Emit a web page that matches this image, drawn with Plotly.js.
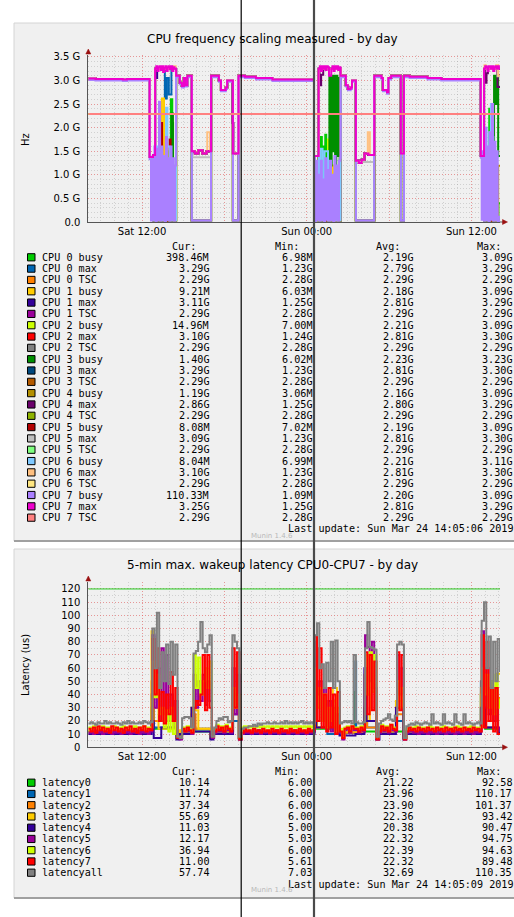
<!DOCTYPE html>
<html>
<head>
<meta charset="utf-8">
<script src="https://cdn.plot.ly/plotly-3.0.1.min.js"></script>
<style>
html,body{margin:0;padding:0;background:#ffffff;overflow:hidden;}
#chart{width:514px;height:917px;}
</style>
</head>
<body>
<div id="chart"></div>
<script>
// ---------- time axis: hours since Sat 2019-03-23 00:00 ----------
const T_START = 8.083;   // Sat 08:05
const T_END = 38.083;    // Sun 14:05
const STEP5 = 5 / 60;
const STEP10 = 10 / 60;
const xTickVals = [12, 18, 24, 30, 36];
const xTickText = ['Sat 12:00', '', 'Sun 00:00', '', 'Sun 12:00'];

// ---------- chart 1: CPU frequency ----------
const freqTickVals = [0, 0.5, 1, 1.5, 2, 2.5, 3, 3.5];
const freqTickText = ['0.0', '0.5 G', '1.0 G', '1.5 G', '2.0 G', '2.5 G', '3.0 G', '3.5 G'];

const cpuLabels = ['CPU 0 busy','CPU 0 max','CPU 0 TSC','CPU 1 busy','CPU 1 max','CPU 1 TSC',
  'CPU 2 busy','CPU 2 max','CPU 2 TSC','CPU 3 busy','CPU 3 max','CPU 3 TSC',
  'CPU 4 busy','CPU 4 max','CPU 4 TSC','CPU 5 busy','CPU 5 max','CPU 5 TSC',
  'CPU 6 busy','CPU 6 max','CPU 6 TSC','CPU 7 busy','CPU 7 max','CPU 7 TSC'];
const cpuColors = ['#00CC00','#0066B3','#FF8000','#FFCC00','#330099','#990099','#CCFF00','#FF0000',
  '#808080','#008F00','#00487D','#B35A00','#B38F00','#6B006B','#8FB300','#B30000','#BEBEBE',
  '#80FF80','#80C9FF','#FFC080','#FFE680','#AA80FF','#EE00CC','#FF8080'];
const cpuCur = ['398.46M','3.29G','2.29G','9.21M','3.11G','2.29G','14.96M','3.10G','2.29G','1.40G','3.29G','2.29G',
  '1.19G','2.86G','2.29G','8.08M','3.09G','2.29G','8.04M','3.10G','2.29G','110.33M','3.25G','2.29G'];
const cpuMin = ['6.98M','1.23G','2.28G','6.03M','1.25G','2.28G','7.00M','1.24G','2.28G','6.02M','1.23G','2.28G',
  '3.06M','1.25G','2.28G','7.02M','1.23G','2.28G','6.99M','1.23G','2.28G','1.09M','1.25G','2.28G'];
const cpuAvg = ['2.19G','2.79G','2.29G','2.18G','2.81G','2.29G','2.21G','2.81G','2.29G','2.23G','2.81G','2.29G',
  '2.16G','2.80G','2.29G','2.19G','2.81G','2.29G','2.21G','2.81G','2.29G','2.20G','2.81G','2.29G'];
const cpuMax = ['3.09G','3.29G','2.29G','3.09G','3.29G','2.29G','3.09G','3.30G','2.29G','3.23G','3.30G','2.29G',
  '3.09G','3.29G','2.29G','3.09G','3.30G','2.29G','3.11G','3.30G','2.29G','3.09G','3.29G','2.29G'];

// step breakpoints (hours) and levels (GHz); null = no change point
const phaseTimes = [8.083, 8.6, 10.6, 10.9, 12.55, 12.8, 12.95, 14.48, 14.75, 14.9, 15.05, 15.15, 15.3,
  15.62, 15.85, 16.1, 16.4, 16.7, 17.03, 17.6, 17.75, 18.1, 18.2, 18.62, 19.03, 19.5, 20.3, 21.5,
  24.53, 24.87, 26.47, 26.85, 27.0, 27.2, 27.3, 27.58, 27.8, 28.0, 28.2, 28.5, 28.92, 29.45, 29.55,
  29.85, 29.95, 30.15, 30.86, 31.08, 31.5, 32.8, 33.8, 36.68, 36.92, 38.083];
const maxLevels = [3.04, 3.03, 3.02, 3.03, 1.38, 1.42, 3.25, 3.1, 2.95, 2.88, 3.05, 2.9, 3.1,
  1.5, 1.45, 1.52, 1.45, 1.5, 3.1, 3.0, 2.8, 2.85, 3.0, 1.45, 3.1, 3.08, 3.05, 3.02,
  1.4, 3.25, 3.1, 2.9, 2.82, 2.85, 3.0, 1.3, 1.25, 1.32, 1.45, 1.42, 3.1, 3.05, 2.8,
  2.75, 3.05, 3.1, 1.45, 3.1, 3.08, 3.05, 3.03, 1.4, 3.25, 3.25];
const busyLevels = [3.04, 3.03, 3.02, 3.03, 1.38, 0.03, null, 3.1, 2.95, 2.88, 3.05, 2.9, 3.1,
  0.03, null, null, null, null, 3.1, 3.0, 2.8, 2.85, 3.0, 0.03, 3.1, 3.08, 3.05, 3.02,
  1.4, 0.03, 3.1, 2.9, 2.82, 2.85, 3.0, 0.03, null, null, null, null, 3.1, 3.05, 2.8,
  2.75, 3.05, 3.1, 0.03, 3.1, 3.08, 3.05, 3.03, 1.4, 0.03, 0.03];
const cpu7BusyLevels = [3.01, 3.0, 2.99, 3.0, 1.33, null, null, 3.07, 2.92, 2.85, 3.02, 2.87, 3.07,
  0.03, null, null, null, null, 3.07, 2.97, 2.77, 2.82, 2.97, 0.03, 3.07, 3.05, 3.02, 2.99,
  1.36, null, 3.07, 2.87, 2.79, 2.82, 2.97, 0.03, null, null, null, null, 3.07, 3.02, 2.77,
  2.72, 3.02, 3.07, 0.03, 3.07, 3.05, 3.02, 3.0, 1.36, null, 0.11];
const tscPairs = [[T_START, 2.29], [T_END, 2.29]];

// spikes: [from, to, value]
const cpu0BusySpikes = [[14.1,14.2,2.6],[14.2,14.26,2.1],[25.0,25.1,1.8],[25.2,25.3,1.6],[25.35,25.42,1.85],[37.3,37.4,2.4],[37.97,T_END,0.4]];
const cpu1BusySpikes = [[13.45,13.6,2.62],[25.9,26.0,1.2],[37.6,37.7,1.0],[37.95,T_END,0.01]];
const cpu2BusySpikes = [[13.9,13.95,1.5],[25.55,25.65,1.75],[36.95,37.05,1.0],[37.45,37.55,2.3],[37.95,T_END,0.015]];
const cpu3BusySpikes = [[14.15,14.25,2.3],[37.65,37.75,3.1],[37.75,37.85,2.5],[37.85,37.95,3.1],[37.95,T_END,1.4]];
const cpu3BusyBurst = [25.65, [3.1, 1.2, 3.1, 1.5, 3.1, 1.2, 3.1, 1.4, 3.05]];
const cpu4BusySpikes = [[13.6,13.7,1.2],[37.95,T_END,1.19]];
const cpu5BusySpikes = [[13.38,13.46,2.1],[14.0,14.08,1.75],[25.6,25.7,1.0],[25.85,25.95,0.55],[26.1,26.2,0.55],[37.05,37.12,0.3]];
const cpu6BusySpikes = [[13.05,13.2,1.6],[13.75,13.85,2.42],[13.85,14.0,1.6],[25.0,25.15,1.55],[25.3,25.55,1.5],[37.0,37.1,2.0],[37.3,37.42,1.9],[37.42,37.5,2.5],[37.5,37.6,1.8]];
const cpu0MaxSpikes = [[13.0,13.08,3.1],[13.66,13.8,2.62],[13.8,13.95,3.05],[13.95,14.14,2.7]];
const cpu1MaxSpikes = [[13.0,13.1,3.05],[37.9,T_END,3.11]];
const cpu2MaxSpikes = [[37.9,T_END,3.1]];
const cpu3MaxSpikes = [];
const cpu4MaxSpikes = [[18.58,18.66,2.1],[24.93,25.05,2.9],[25.05,25.2,3.12],[36.98,37.1,2.95],[37.1,37.2,3.15],[37.9,T_END,2.86]];
const cpu5MaxSpikes = [[15.62,17.03,1.37],[27.62,28.9,1.27],[37.9,T_END,3.09]];
const cpu6MaxSpikes = [[14.3,14.45,3.3],[16.75,16.95,1.9],[28.45,28.6,1.9],[36.95,37.05,3.32],[37.8,37.95,3.32],[37.95,T_END,3.1]];
// 5-minute samples during busy periods: [start, values]
const cpu7BusyBursts = [
  [12.65, [0.03,1.35,0.05,1.6,0.02,1.55,0.04,2.55,0.03,1.6,0.05,1.4,0.02,1.8,0.04,1.35,0.03,1.6,0.05,1.35,0.03,1.2]],
  [24.6, [0.02,1.3,0.05,1.0,0.03,1.3,0.04,0.9,0.02,1.35,0.05,1.1,0.03,1.3,0.04,1.0,0.02,1.4,0.05,1.2,0.03,1.3]],
  [36.75, [0.05,1.5,0.03,2.0,0.04,1.6,0.02,1.9,0.05,2.5,0.03,1.7,0.04,1.5,0.02,0.11]]
];
const cpu7MaxBursts = [
  [12.95, [3.25,3.3,3.2,3.28,3.3,3.22,3.3,3.18,3.27,3.3,3.2,3.28,3.3,3.24,3.3,3.2,3.28,3.25]],
  [24.87, [3.25,3.3,3.2,3.3,3.25,3.3,3.22,3.3,3.28,3.1,3.1,3.25,3.3,3.2,3.3,3.25,3.3,3.22,3.28]],
  [36.92, [3.25,3.3,3.28,3.2,3.3,3.3,3.25,3.3,3.2,3.28,3.3,3.25,3.3,3.25]]
];

// ---------- chart 2: wakeup latency ----------
const latTickVals = [0,10,20,30,40,50,60,70,80,90,100,110,120];
const latLabels = ['latency0','latency1','latency2','latency3','latency4','latency5','latency6','latency7','latencyall'];
const latColors = ['#00CC00','#0066B3','#FF8000','#FFCC00','#330099','#990099','#CCFF00','#FF0000','#808080'];
const latCur = ['10.14','11.74','37.34','55.69','11.03','12.17','36.94','11.00','57.74'];
const latMin = ['6.00','6.00','6.00','6.00','5.00','5.03','6.00','5.61','7.03'];
const latAvg = ['21.22','23.96','23.90','22.36','20.38','22.32','22.39','22.32','32.69'];
const latMax = ['92.58','110.17','101.37','93.42','90.47','94.75','94.63','89.48','110.35'];
const latWarning = 120;
const LAT_T0 = 8.083;   // first 10-minute sample
const latAll = [18,19,18,17,19,18,18,20,18,19,18,18,19,18,17,19,18,20,18,19,18,18,19,18,20,19,18,19,
  90,60,102,45,72,50,78,48,80,55,78,
  8,7,22,23,23,22,15,
  71,73,80,95,75,72,78,85,
  8,15,20,22,21,23,23,19,20,
  85,80,75,
  8,14,15,15,16,16,17,16,18,17,18,18,19,18,18,19,18,18,19,18,20,18,19,18,19,18,19,20,18,19,18,19,18,
  85,94,60,63,45,64,50,80,45,81,50,
  18,19,20,19,20,18,70,19,18,18,19,
  75,95,76,75,74,
  8,18,20,21,22,25,21,20,24,
  78,80,78,
  7,16,17,18,17,19,18,17,18,19,18,17,25,18,19,18,17,25,18,19,18,17,25,19,18,17,25,18,19,18,17,18,19,18,
  96,110,60,84,45,80,50,82,57];
const lat7 = [14,12,15,11,16,13,15,12,14,11,16,13,15,12,14,11,15,13,16,12,14,11,15,13,16,12,14,13,
  82,40,75,20,42,18,40,25,57,20,45,
  7,7,14,12,15,13,11,
  30,35,32,40,70,28,70,30,
  8,12,16,13,15,12,16,14,12,
  75,30,72,
  6,11,14,12,13,11,14,12,13,11,14,12,13,11,14,12,13,11,14,12,13,11,14,12,13,11,14,12,13,11,14,12,13,
  84,20,75,15,40,12,45,15,40,10,42,
  12,7,14,15,12,16,14,14,12,15,13,
  72,25,70,28,65,
  6,12,16,13,15,12,17,14,13,
  72,28,70,
  6,12,15,13,14,12,15,13,14,12,15,13,14,12,15,13,14,12,15,13,14,12,15,13,14,12,15,13,14,12,15,13,14,12,
  85,15,80,20,45,12,45,10,11];
const lat6 = [15,14,16,15,14,15,16,14,15,15,14,16,15,14,15,16,14,15,15,14,16,15,14,15,16,14,15,15,
  65,38,55,25,30,15,28,12,30,10,20,
  8,8,15,14,16,14,12,
  70,45,68,40,50,60,45,65,
  9,14,17,15,16,14,17,15,14,
  45,30,40,
  7,15,16,15,16,15,16,15,16,15,16,15,16,15,16,15,16,15,16,15,16,15,16,15,16,15,16,15,16,15,16,15,16,
  60,30,45,20,40,15,30,20,35,12,30,
  14,8,15,16,14,16,15,15,14,16,15,
  70,40,72,42,70,
  7,14,17,15,16,14,17,15,14,
  50,30,45,
  7,14,15,14,15,16,14,15,14,15,14,16,15,14,15,14,15,16,14,15,14,15,14,16,15,14,15,14,15,16,14,15,14,15,
  60,40,55,30,50,25,55,30,37];
const lat5 = [11,12,10,13,11,12,10,12,11,13,10,12,11,12,10,13,11,12,10,12,11,13,10,12,11,12,10,12,
  85,30,60,20,75,25,70,20,40,15,35,
  7,6,13,12,14,12,10,
  55,30,50,35,55,32,50,35,
  7,11,15,12,14,11,15,13,11,
  60,25,55,
  6,10,12,11,12,10,12,11,13,10,12,11,12,10,12,11,13,10,12,11,12,10,12,11,13,10,12,11,12,10,12,11,12,
  65,40,50,20,45,15,35,12,30,10,25,
  11,6,13,14,11,15,13,13,11,14,12,
  85,76,50,80,45,
  6,11,15,12,14,11,16,13,12,
  70,40,60,
  6,11,13,12,11,12,10,12,11,13,10,12,11,12,10,13,11,12,10,12,11,13,10,12,11,12,10,12,11,13,10,12,11,12,
  88,30,60,25,50,20,45,15,12];
const lat4Pairs = [[T_START,10],[12.69,20],[12.85,7],[13.4,15],[14.5,6],[14.75,10],[15.6,30],[15.8,12],[16.98,6],[17.2,10],
  [18.63,25],[19.05,6],[19.25,10],[24.57,80],[24.7,15],[26.39,9],[27.55,10],[28.2,60],[28.35,20],[29.05,6],[29.3,10],
  [30.5,30],[31.04,6],[31.25,10],[36.69,30],[37.0,15],[37.9,11],[T_END,11]];
const lat3Pairs = [[T_START,13],[12.69,88],[12.8,30],[13.2,14],[14.5,7],[14.75,13],[15.6,30],[15.9,28],[16.1,14],[16.98,8],
  [17.2,13],[18.63,40],[19.05,7],[19.25,13],[24.57,50],[24.75,15],[25.9,45],[26.2,20],[26.39,12],[28.2,55],[28.4,40],
  [28.6,20],[29.05,7],[29.25,13],[30.5,35],[31.04,7],[31.25,13],[36.69,40],[37.0,20],[37.85,55.7],[T_END,55.7]];
const lat2Pairs = [[T_START,12],[12.69,50],[12.85,20],[14.5,7],[14.75,12],[15.6,25],[15.9,14],[16.98,7],[17.2,12],
  [18.63,30],[19.05,7],[19.25,12],[24.57,30],[24.75,15],[26.0,28],[26.15,15],[26.39,11],[28.2,30],[28.4,15],[29.05,7],
  [29.25,12],[30.5,25],[31.04,7],[31.25,12],[36.69,45],[37.0,15],[37.95,37.3],[T_END,37.3]];
const lat1Pairs = [[T_START,12],[12.69,40],[12.85,15],[14.5,7],[14.75,12],[15.7,28],[15.8,14],[16.98,7],[17.2,12],
  [18.63,20],[19.05,7],[19.25,12],[24.57,40],[24.75,15],[25.5,10],[26.39,11],[27.55,65],[27.6,12],[28.2,30],[28.4,15],
  [29.05,7],[29.25,12],[30.5,20],[31.04,7],[31.25,12],[36.69,50],[37.0,15],[37.95,11.7],[T_END,11.7]];
const lat0Pairs = [[T_START,12],[12.69,30],[12.85,14],[14.5,7],[14.75,12],[16.98,7],[17.2,12],[18.63,20],[19.05,7],
  [19.25,12],[24.57,40],[24.75,14],[26.39,11],[27.5,42],[27.55,12],[29.05,7],[29.25,12],[31.04,7],[31.25,12],
  [36.69,40],[37.0,14],[37.95,10.1],[T_END,10.1]];

// ---------- helpers ----------
const W = 514, H = 917;
const px = x => x / W;
const py = y => 1 - y / H;

function phaseSeries(levels) {
  const pts = [];
  phaseTimes.forEach((t, i) => { if (levels[i] !== null) pts.push([t, levels[i]]); });
  return pts;
}
function stepAt(pts, t) {
  let v = pts[0][1];
  for (const p of pts) { if (p[0] <= t + 1e-9) v = p[1]; else break; }
  return v;
}
function overlay(pts, t0, t1, v) {
  if (t0 >= T_END - 1e-9) return pts;
  const atEnd = t1 >= T_END - 1e-9;
  if (atEnd) t1 = T_END;
  const back = atEnd ? v : stepAt(pts, t1);
  const out = pts.filter(p => p[0] < t0 - 1e-9 || p[0] > t1 + 1e-9);
  out.push([t0, v], [t1, back]);
  out.sort((a, b) => a[0] - b[0]);
  return out;
}
function withSpikes(pts, spikes) { spikes.forEach(s => { pts = overlay(pts, s[0], s[1], s[2]); }); return pts; }
function withBurst(pts, burst) {
  const t0 = burst[0];
  burst[1].forEach((v, i) => { pts = overlay(pts, t0 + i * STEP5, t0 + (i + 1) * STEP5, v); });
  return pts;
}
function sampled(vals) { return vals.map((v, i) => [LAT_T0 + i * STEP10, v]); }

// ---------- build CPU series ----------
const busySpikeSets = [cpu0BusySpikes, cpu1BusySpikes, cpu2BusySpikes, cpu3BusySpikes, cpu4BusySpikes, cpu5BusySpikes, cpu6BusySpikes];
const maxSpikeSets = [cpu0MaxSpikes, cpu1MaxSpikes, cpu2MaxSpikes, cpu3MaxSpikes, cpu4MaxSpikes, cpu5MaxSpikes, cpu6MaxSpikes];
const cpuSeries = [];
for (let c = 0; c < 8; c++) {
  let busy, mx;
  if (c < 7) {
    busy = withSpikes(phaseSeries(busyLevels), busySpikeSets[c]);
    if (c === 3) busy = withBurst(busy, cpu3BusyBurst);
    mx = withSpikes(phaseSeries(maxLevels), maxSpikeSets[c]);
  } else {
    busy = phaseSeries(cpu7BusyLevels);
    cpu7BusyBursts.forEach(b => { busy = withBurst(busy, b); });
    mx = phaseSeries(maxLevels);
    cpu7MaxBursts.forEach(b => { mx = withBurst(mx, b); });
  }
  cpuSeries.push(busy, mx, tscPairs);
}
const latSeries = [lat0Pairs, lat1Pairs, lat2Pairs, lat3Pairs, lat4Pairs, sampled(lat5), sampled(lat6), sampled(lat7), sampled(latAll)];

const traces = [];
cpuSeries.forEach((pts, i) => traces.push({
  type: 'scatter', mode: 'lines', x: pts.map(p => p[0]), y: pts.map(p => p[1]),
  line: { color: cpuColors[i], width: 2, shape: 'hv' }, xaxis: 'x', yaxis: 'y', hoverinfo: 'skip', name: cpuLabels[i]
}));
latSeries.forEach((pts, i) => traces.push({
  type: 'scatter', mode: 'lines', x: pts.map(p => p[0]), y: pts.map(p => p[1]),
  line: { color: latColors[i], width: 2, shape: 'hv' }, xaxis: 'x2', yaxis: 'y2', hoverinfo: 'skip', name: latLabels[i]
}));

// ---------- layout ----------
const tickFont = { family: 'DejaVu Sans', size: 10, color: '#000' };
const majorGrid = 'rgba(255,80,80,0.45)';
const minorGrid = 'rgba(140,140,140,0.32)';
function xAxis(anchor) {
  return {
    anchor: anchor, domain: [px(88.3), px(500)], type: 'linear', range: [T_START, T_END],
    tickmode: 'array', tickvals: xTickVals, ticktext: xTickText, tickfont: tickFont,
    showgrid: true, gridcolor: majorGrid, griddash: '1px,2px', gridwidth: 1,
    minor: { dtick: 1, tick0: 0, showgrid: true, gridcolor: minorGrid, griddash: '1px,2px', gridwidth: 1, ticks: '' },
    showline: true, linecolor: '#555', linewidth: 1, zeroline: false,
    ticks: '', fixedrange: true
  };
}
function yAxis(anchor, dom, range, vals, text, minorStep) {
  return {
    anchor: anchor, domain: dom, range: range, tickmode: 'array', tickvals: vals, ticktext: text, tickfont: tickFont,
    showgrid: true, gridcolor: majorGrid, griddash: '1px,2px', gridwidth: 1,
    minor: { dtick: minorStep, tick0: 0, showgrid: true, gridcolor: minorGrid, griddash: '1px,2px', gridwidth: 1, ticks: '' },
    showline: true, linecolor: '#555', linewidth: 1, zeroline: false,
    ticks: 'outside', ticklen: 5, tickcolor: 'rgba(0,0,0,0)', fixedrange: true
  };
}

const shapes = [];
const annotations = [];
function panel(y0, y1) {
  shapes.push({ type: 'rect', xref: 'paper', yref: 'paper', x0: px(14), x1: px(530), y0: py(y1), y1: py(y0),
    fillcolor: '#F0F0F0', line: { color: '#D4D4D4', width: 1 }, layer: 'below' });
  shapes.push({ type: 'line', xref: 'paper', yref: 'paper', x0: px(14), x1: px(530), y0: py(y1), y1: py(y1),
    line: { color: '#A0A0A0', width: 2 }, layer: 'below' });
}
panel(23, 541);
panel(549, 898);

function tri(points, color) {
  shapes.push({ type: 'path', xref: 'paper', yref: 'paper',
    path: 'M' + points.map(p => px(p[0]) + ',' + py(p[1])).join(' L') + ' Z',
    fillcolor: color, line: { color: color, width: 0.5 }, layer: 'above' });
}
// axis arrows
[[222, 52], [747.3, 579]].forEach(([yb, yt]) => {
  tri([[88.3, yt - 3], [85.8, yt + 2], [90.8, yt + 2]], '#9A1010');
  shapes.push({ type: 'line', xref: 'paper', yref: 'paper', x0: px(500), x1: px(503), y0: py(yb), y1: py(yb), line: { color: '#555', width: 1 } });
  tri([[507.5, yb], [502.5, yb - 2.5], [502.5, yb + 2.5]], '#9A1010');
});
// warning rule on latency chart
shapes.push({ type: 'line', xref: 'x2', yref: 'y2', x0: T_START, x1: T_END, y0: latWarning, y1: latWarning,
  line: { color: '#22CC22', width: 1 }, layer: 'above' });

function txt(x, y, s, anchor, size, color, family, angle) {
  annotations.push({ xref: 'paper', yref: 'paper', x: px(x), y: py(y), text: s, showarrow: false,
    xanchor: anchor, yanchor: 'middle', borderpad: 0, textangle: angle || 0,
    font: { family: family || 'DejaVu Sans', size: size, color: color || '#000' } });
}
// titles
txt(272, 39, 'CPU frequency scaling measured - by day', 'center', 12);
txt(272, 565, '5-min max. wakeup latency CPU0-CPU7 - by day', 'center', 12);
txt(25, 140, 'Hz', 'center', 10, '#000', 'DejaVu Sans', -90);
txt(25, 665, 'Latency (us)', 'center', 10, '#000', 'DejaVu Sans', -90);

const MONO = 'DejaVu Sans Mono';
const MS = 10.15;
function legend(labels, colors, cur, mn, avg, mxv, yHeader, y0, step, yLast, lastText, yMunin) {
  txt(197, yHeader, 'Cur:', 'right', MS, '#000', MONO);
  txt(299.5, yHeader, 'Min:', 'right', MS, '#000', MONO);
  txt(401, yHeader, 'Avg:', 'right', MS, '#000', MONO);
  txt(502, yHeader, 'Max:', 'right', MS, '#000', MONO);
  labels.forEach((lab, k) => {
    const y = y0 + k * step;
    shapes.push({ type: 'rect', xref: 'paper', yref: 'paper', x0: px(27.5), x1: px(35), y0: py(y + 3.6), y1: py(y - 3.6),
      fillcolor: colors[k], line: { color: '#000', width: 1 }, layer: 'above' });
    txt(41, y, lab, 'left', MS, '#000', MONO);
    txt(210, y, cur[k], 'right', MS, '#000', MONO);
    txt(313, y, mn[k], 'right', MS, '#000', MONO);
    txt(414, y, avg[k], 'right', MS, '#000', MONO);
    txt(512.5, y, mxv[k], 'right', MS, '#000', MONO);
  });
  txt(286.5, yLast, lastText, 'left', MS, '#000', MONO);
  txt(272, yMunin, 'Munin 1.4.6', 'center', 7, '#B8B8B8', 'DejaVu Sans');
}
legend(cpuLabels, cpuColors, cpuCur, cpuMin, cpuAvg, cpuMax, 246, 257.3, 11.32, 528.7, 'Last update: Sun Mar 24 14:05:06 2019', 535.7);
legend(latLabels, latColors, latCur, latMin, latAvg, latMax, 771.7, 782.7, 11.25, 884.3, 'Last update: Sun Mar 24 14:05:09 2019', 890);

// overlay guide lines crossing the whole picture
shapes.push({ type: 'line', xref: 'paper', yref: 'paper', x0: px(241.2), x1: px(241.2), y0: 0, y1: 1, line: { color: '#000', width: 1.2 }, layer: 'above' });
shapes.push({ type: 'line', xref: 'paper', yref: 'paper', x0: px(314), x1: px(314), y0: 0, y1: 1, line: { color: '#4A4A4A', width: 2.2 }, layer: 'above' });

const layout = {
  width: W, height: H, margin: { l: 0, r: 0, t: 0, b: 0 },
  paper_bgcolor: '#FFFFFF', plot_bgcolor: '#FFFFFF', showlegend: false,
  font: { family: 'DejaVu Sans', size: 10, color: '#000' },
  xaxis: xAxis('y'),
  yaxis: yAxis('x', [py(222), py(54.5)], [0, 3.55], freqTickVals, freqTickText, 0.1),
  xaxis2: xAxis('y2'),
  yaxis2: yAxis('x2', [py(747.3), py(581.7)], [0, 125.5], latTickVals, latTickVals.map(String), 5),
  shapes: shapes, annotations: annotations
};
Plotly.newPlot('chart', traces, layout, { staticPlot: true, displayModeBar: false });
</script>
</body>
</html>
